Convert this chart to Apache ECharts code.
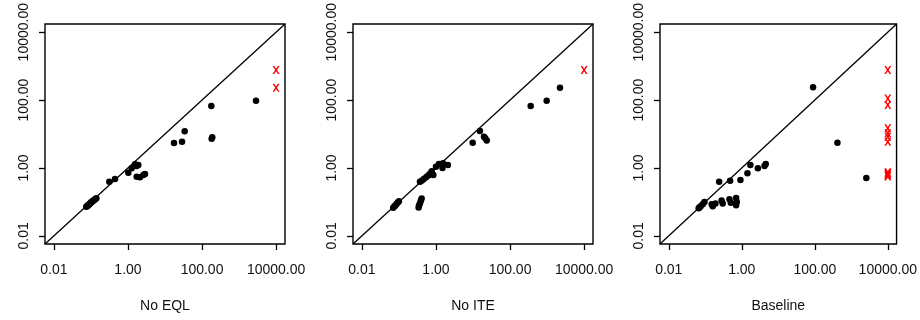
<!DOCTYPE html>
<html>
<head>
<meta charset="utf-8">
<script src="https://cdn.jsdelivr.net/npm/echarts@6/dist/echarts.min.js"></script>
<style>
    html, body { margin: 0; padding: 0; background: #fff; }
    #chart { width: 920px; height: 320px; }
</style>
</head>
<body>
<div id="chart"></div>
<script>
// panel titles (x axis names)
const panelNames = ['No EQL', 'No ITE', 'Baseline'];
const tickValues = [0.01, 1, 100, 10000];
const timeoutX = 10000;

// No EQL
const eqlX = [2865, 178, 189, 182, 34, 28.8, 17.5, 1.55, 1.72, 1.9, 1.26, 1.02, 1.72, 2.11, 2.6, 2.88, 0.447, 0.313,
    0.075, 0.078, 0.081, 0.084, 0.087, 0.09, 0.094, 0.098, 0.102, 0.107, 0.112, 0.118, 0.125, 0.132, 0.14];
const eqlY = [95.7, 66.8, 8.0, 7.3, 12.0, 5.9, 5.4, 1.28, 1.14, 1.22, 0.98, 0.72, 0.55, 0.53, 0.62, 0.66, 0.47, 0.39,
    0.072, 0.074, 0.077, 0.08, 0.083, 0.086, 0.089, 0.093, 0.097, 0.101, 0.106, 0.11, 0.116, 0.122, 0.128];
const eqlTimeoutY = [767, 231];

// No ITE
const iteX = [2233, 975, 361, 15.4, 19.8, 21.5, 23.5, 9.8, 1.0, 1.2, 1.55, 2.1, 1.5, 0.85,
    0.37, 0.42, 0.48, 0.55, 0.62, 0.68, 0.74, 0.77,
    0.34, 0.35, 0.37, 0.39, 0.41,
    0.07, 0.075, 0.08, 0.086, 0.093, 0.1];
const iteY = [231, 95.7, 66.8, 12.2, 8.3, 7.5, 6.4, 5.5, 1.09, 1.3, 1.38, 1.22, 1.0, 0.62,
    0.39, 0.43, 0.48, 0.54, 0.6, 0.66, 0.72, 0.8,
    0.068, 0.078, 0.092, 0.108, 0.125,
    0.067, 0.073, 0.079, 0.087, 0.096, 0.105];
const iteTimeoutY = [767];

// Baseline
const baseX = [89.7, 417, 2576, 4.54, 4.19, 2.76, 1.72, 1.43, 0.92, 0.48, 0.24,
    0.066, 0.07, 0.075, 0.085, 0.095, 0.15, 0.16, 0.19, 0.28, 0.3, 0.46, 0.5, 0.7, 0.73, 0.7];
const baseY = [238, 5.55, 0.506, 1.31, 1.14, 0.98, 1.22, 0.7, 0.44, 0.42, 0.39,
    0.065, 0.07, 0.075, 0.085, 0.1, 0.085, 0.075, 0.09, 0.11, 0.09, 0.12, 0.095, 0.13, 0.1, 0.08];
const baseTimeoutY = [767, 112, 71.5, 14.7, 10.5, 8.3, 5.9, 0.75, 0.7, 0.65, 0.6, 0.56];

const panels = [
    { xs: eqlX, ys: eqlY, timeouts: eqlTimeoutY },
    { xs: iteX, ys: iteY, timeouts: iteTimeoutY },
    { xs: baseX, ys: baseY, timeouts: baseTimeoutY }
];

const lo = Math.pow(10, -2.24);
const hi = Math.pow(10, 4.24);
const lefts = [45, 353, 660];
const font = 'Liberation Sans, Arial, sans-serif';
const crossPath = 'path://M0,0 L2.4,0 L5,3.4 L7.6,0 L10,0 L6.3,5 L10,10 L7.6,10 L5,6.6 L2.4,10 L0,10 L3.7,5 Z';

const grids = [], xAxes = [], yAxes = [], series = [];
panels.forEach((p, i) => {
    grids.push({
        left: lefts[i], top: 24, width: 240, height: 220,
        show: true, borderColor: '#000', borderWidth: 1.4, backgroundColor: 'transparent'
    });
    const axisCommon = {
        type: 'log',
        gridIndex: i,
        min: lo,
        max: hi,
        axisLine: { show: false },
        splitLine: { show: false },
        axisTick: { show: true, inside: false, length: 6, customValues: tickValues, lineStyle: { color: '#000', width: 1.3 } },
        axisLabel: {
            customValues: tickValues,
            color: '#111',
            fontSize: 14,
            fontFamily: font,
            formatter: (v) => Number(v).toFixed(2)
        }
    };
    xAxes.push({
        ...axisCommon,
        name: panelNames[i],
        nameLocation: 'middle',
        nameGap: 55,
        nameTextStyle: { color: '#111', fontSize: 14, fontFamily: font },
        axisLabel: { ...axisCommon.axisLabel, margin: 19 }
    });
    yAxes.push({
        ...axisCommon,
        axisLabel: { ...axisCommon.axisLabel, margin: 14, rotate: 90 }
    });

    series.push({
        type: 'line',
        xAxisIndex: i, yAxisIndex: i,
        data: [[lo, lo], [hi, hi]],
        symbol: 'none',
        silent: true,
        lineStyle: { color: '#000', width: 1.3 }
    });
    series.push({
        type: 'scatter',
        xAxisIndex: i, yAxisIndex: i,
        data: p.xs.map((x, k) => [x, p.ys[k]]),
        symbol: 'circle',
        symbolSize: 6.5,
        itemStyle: { color: '#000', opacity: 1 }
    });
    series.push({
        type: 'scatter',
        xAxisIndex: i, yAxisIndex: i,
        data: p.timeouts.map(y => [timeoutX, y]),
        symbol: crossPath,
        symbolSize: [7, 8],
        itemStyle: { color: '#ff0000', opacity: 1 }
    });
});

const chart = echarts.init(document.getElementById('chart'));
chart.setOption({
    animation: false,
    backgroundColor: '#fff',
    grid: grids,
    xAxis: xAxes,
    yAxis: yAxes,
    series: series
});
</script>
</body>
</html>
